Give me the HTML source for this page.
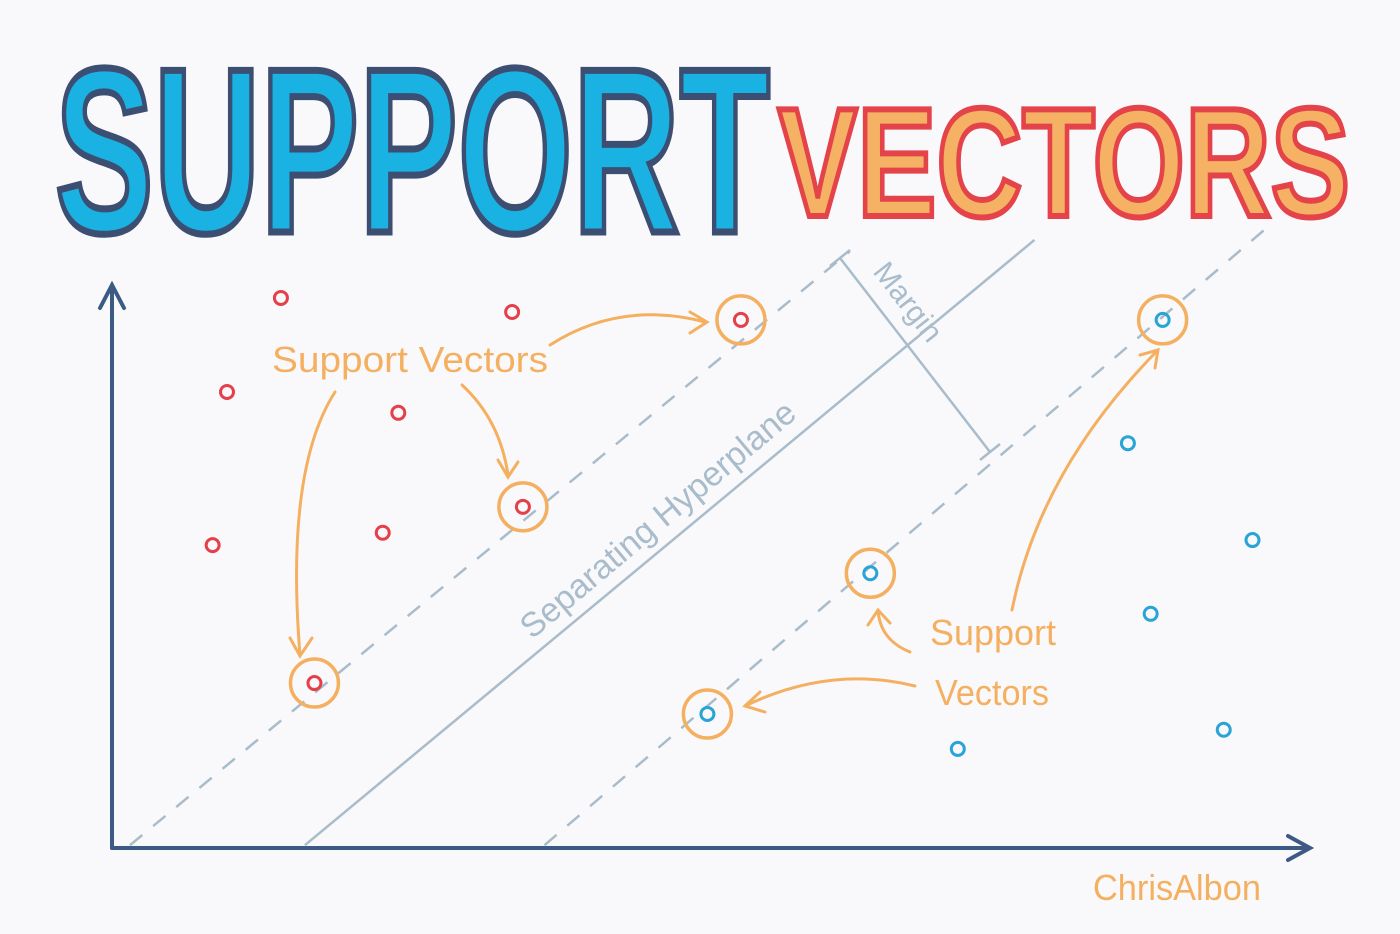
<!DOCTYPE html>
<html><head><meta charset="utf-8"><style>
html,body{margin:0;padding:0;background:#f9f9fb;}
svg{display:block;}
</style></head><body>
<svg width="1400" height="934" viewBox="0 0 1400 934" xmlns="http://www.w3.org/2000/svg">
<rect width="1400" height="934" fill="#f9f9fb"/>
<text x="55" y="232" textLength="715" lengthAdjust="spacingAndGlyphs" font-family="Liberation Sans, sans-serif" font-weight="bold" font-size="235" fill="#1ab2e2" stroke="#3c4f72" stroke-width="7">SUPPORT</text>
<text x="778" y="216" textLength="572" lengthAdjust="spacingAndGlyphs" font-family="Liberation Sans, sans-serif" font-weight="bold" font-size="155" fill="#f6b264" stroke="#e4434a" stroke-width="6">VECTORS</text>
<g id="chart"></g>
</svg>
<script>
const redX=[14.1,33.4,9.6,23.9,8.4,22.6,52.5,34.3,16.9];
const redY=[97.7,95.2,81.0,77.3,53.8,56.0,93.8,60.6,29.3];
const redSV=[0,0,0,0,0,0,1,1,1];
const blueX=[87.7,84.8,95.2,86.7,92.8,70.6,63.3,49.7];
const blueY=[93.8,71.9,54.7,41.6,21.0,17.6,48.8,23.8];
const blueSV=[1,0,0,0,0,0,1,1];
const hyperX=[16.1,77.0];
const hyperY=[0.5,108];
const upperX=[1.5,61.6];
const upperY=[0.5,106];
const lowerX=[36.1,96.3];
const lowerY=[0.5,110];
const sx=v=>112+v*11.98;
const sy=v=>848-v*5.63;
const NS='http://www.w3.org/2000/svg';
const g=document.getElementById('chart');
function mk(tag,attrs){const e=document.createElementNS(NS,tag);for(const k in attrs)e.setAttribute(k,attrs[k]);g.appendChild(e);return e;}
let e;
e=mk('path',{d:'M112,848 L112,285 M100,308 L112,285 L124,308',stroke:'#3d5a85','stroke-width':4,fill:'none','stroke-linecap':'round'});


e=mk('path',{d:'M112,848 L1310,848 M1288,836 L1310,848 L1288,860',stroke:'#3d5a85','stroke-width':4,fill:'none','stroke-linecap':'round'});


e=mk('line',{x1:sx(hyperX[0]),y1:sy(hyperY[0]),x2:sx(hyperX[1]),y2:sy(hyperY[1]),stroke:'#a8bccb','stroke-width':2.5});


e=mk('line',{x1:sx(upperX[0]),y1:sy(upperY[0]),x2:sx(upperX[1]),y2:sy(upperY[1]),stroke:'#a8bccb','stroke-width':2.5,'stroke-dasharray':'16 14'});


e=mk('line',{x1:sx(lowerX[0]),y1:sy(lowerY[0]),x2:sx(lowerX[1]),y2:sy(lowerY[1]),stroke:'#a8bccb','stroke-width':2.5,'stroke-dasharray':'16 14'});


e=mk('path',{d:'M840,258 L990,452 M830,266 L850,250 M980,460 L1000,444',stroke:'#a8bccb','stroke-width':2.5,fill:'none'});


function pts(X,Y,SV,col,name){for(let i=0;i<X.length;i++){
 if(SV[i]){e=mk('circle',{cx:sx(X[i]),cy:sy(Y[i]),r:24,fill:'none',stroke:'#f4b060','stroke-width':3.5});
 
 }
 e=mk('circle',{cx:sx(X[i]),cy:sy(Y[i]),r:6.5,fill:'none',stroke:col,'stroke-width':3});
 
 }}
pts(redX,redY,redSV,'#e5404a','red');
pts(blueX,blueY,blueSV,'#2aa4d6','blue');
const arrows=['M550,345 Q620,300 705,322 M690,312 L707,322 L690,333','M335,392 Q285,470 300,655 M290,638 L300,656 L312,638','M462,385 Q500,420 508,475 M498,460 L508,477 L518,462','M1012,610 Q1040,470 1158,350 M1140,355 L1158,350 L1155,368','M910,652 Q880,640 878,610 M868,625 L878,610 L890,623','M915,686 Q830,665 745,706 M760,692 L745,706 L765,712'];
arrows.forEach(d=>{e=mk('path',{d:d,stroke:'#f4b060','stroke-width':3,fill:'none','stroke-linecap':'round'});

});
function txt(x,y,s,size,col,rot,name,len){e=mk('text',{x:x,y:y,'font-size':size,fill:col,'font-family':'Liberation Sans, sans-serif',transform:rot?`rotate(${rot} ${x} ${y})`:''});e.textContent=s;
if(len){e.setAttribute('textLength',len);e.setAttribute('lengthAdjust','spacingAndGlyphs');}

}
txt(272,372,'Support  Vectors',36,'#f4b060',0,'support-vectors-label-top',276);
txt(930,645,'Support',36,'#f4b060',0,'support-label-bottom',126);
txt(935,705,'Vectors',36,'#f4b060',0,'vectors-label-bottom',114);
txt(532,640,'Separating  Hyperplane',34,'#a8bccb',-40,'hyperplane-label');
txt(872,272,'Margin',30,'#a8bccb',52,'margin-label');
txt(1093,900,'ChrisAlbon',36,'#f4b060',0,'author-signature',168);
</script>
</body></html>
